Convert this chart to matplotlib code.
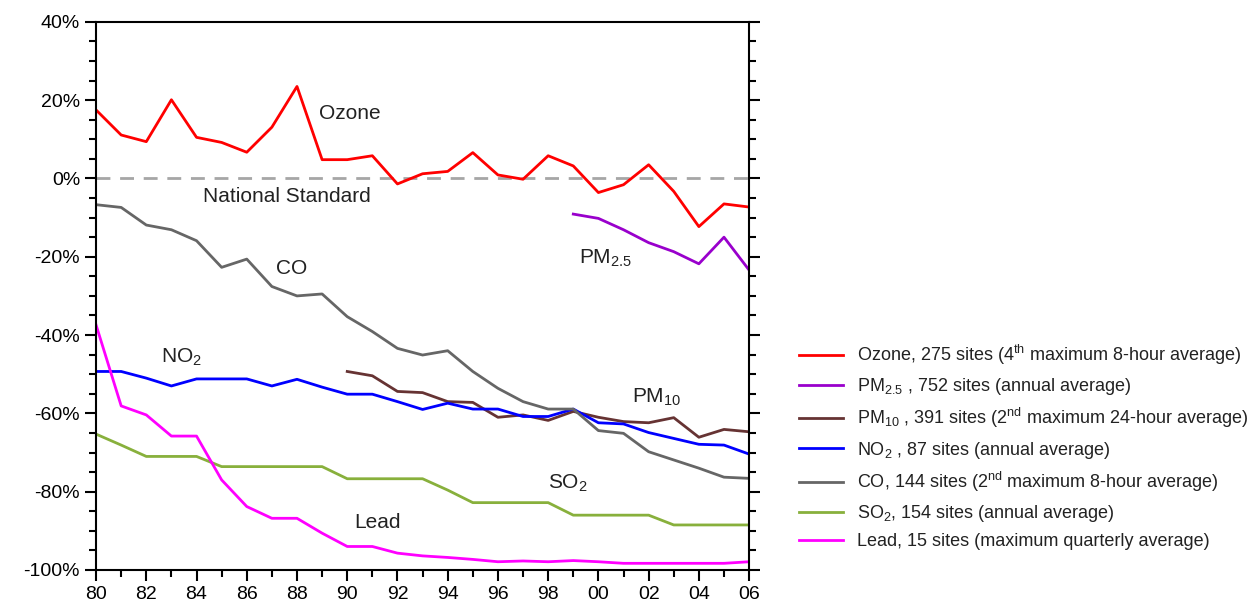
import numpy as np
import matplotlib
matplotlib.use('Agg')
import matplotlib.pyplot as plt
from matplotlib.ticker import MultipleLocator, FuncFormatter

plt.rcParams['font.family'] = ['Liberation Sans', 'DejaVu Sans']
plt.rcParams['mathtext.fontset'] = 'custom'
plt.rcParams['mathtext.rm'] = 'Liberation Sans'
plt.rcParams['mathtext.it'] = 'Liberation Sans'

years = list(range(1980, 2007))
ozone = [17.5, 11.1, 9.4, 20.1, 10.5, 9.2, 6.7, 13.1, 23.5, 4.8, 4.8, 5.8, -1.4, 1.2,
         1.8, 6.6, 0.9, -0.2, 5.8, 3.2, -3.6, -1.6, 3.5, -3.3, -12.3, -6.5, -7.3]
co = [-6.7, -7.4, -11.9, -13.1, -15.9, -22.7, -20.6, -27.6, -30.0, -29.5, -35.3, -39.1,
      -43.4, -45.1, -44.0, -49.3, -53.6, -57.0, -58.9, -58.9, -64.4, -65.1, -69.8, -71.9,
      -74.0, -76.3, -76.6]
no2 = [-49.3, -49.3, -51.0, -53.0, -51.2, -51.2, -51.2, -53.0, -51.3, -53.3, -55.1, -55.1,
       -57.0, -59.0, -57.4, -58.9, -58.9, -60.8, -60.8, -58.9, -62.4, -62.7, -64.9, -66.4,
       -67.9, -68.1, -70.4]
so2 = [-65.3, -68.1, -71.0, -71.0, -71.0, -73.6, -73.6, -73.6, -73.6, -73.6, -76.7, -76.7,
       -76.7, -76.7, -79.6, -82.8, -82.8, -82.8, -82.8, -86.0, -86.0, -86.0, -86.0, -88.5,
       -88.5, -88.5, -88.5]
lead = [-37.4, -58.1, -60.4, -65.8, -65.8, -77.0, -83.8, -86.8, -86.8, -90.6, -94.0, -94.0,
        -95.7, -96.4, -96.8, -97.3, -97.9, -97.7, -97.9, -97.6, -97.9, -98.3, -98.3, -98.3,
        -98.3, -98.3, -97.9]
pm10_years = list(range(1990, 2007))
pm10 = [-49.3, -50.4, -54.4, -54.7, -57.0, -57.2, -61.0, -60.4, -61.8, -59.5, -61.0, -62.1,
        -62.4, -61.1, -66.1, -64.1, -64.7]
pm25_years = list(range(1999, 2007))
pm25 = [-9.1, -10.2, -13.1, -16.4, -18.7, -21.8, -15.0, -23.4]

fig = plt.figure(figsize=(12.59, 6.07), dpi=100)
ax = fig.add_axes([0.0763, 0.061, 0.5187, 0.903])

lw = 2.0
h_oz, = ax.plot(years, ozone, color='#ff0000', lw=lw,
                label='Ozone, 275 sites (4$^{\\rm th}$ maximum 8-hour average)')
h_25, = ax.plot(pm25_years, pm25, color='#9900cc', lw=lw,
                label='PM$_{2.5}$ , 752 sites (annual average)')
h_10, = ax.plot(pm10_years, pm10, color='#663333', lw=lw,
                label='PM$_{10}$ , 391 sites (2$^{\\rm nd}$ maximum 24-hour average)')
h_no, = ax.plot(years, no2, color='#0000ff', lw=lw,
                label='NO$_2$ , 87 sites (annual average)')
h_co, = ax.plot(years, co, color='#666666', lw=lw,
                label='CO, 144 sites (2$^{\\rm nd}$ maximum 8-hour average)')
h_so, = ax.plot(years, so2, color='#88b03c', lw=lw,
                label='SO$_2$, 154 sites (annual average)')
h_pb, = ax.plot(years, lead, color='#ff00ff', lw=lw,
                label='Lead, 15 sites (maximum quarterly average)')
ax.axhline(0, color='#a6a6a6', lw=2.0, ls=(0, (5, 3.5)), zorder=1)

ax.set_xlim(1980, 2006)
ax.set_ylim(-100, 40)
ax.xaxis.set_major_locator(MultipleLocator(2))
ax.xaxis.set_minor_locator(MultipleLocator(1))
ax.yaxis.set_major_locator(MultipleLocator(20))
ax.yaxis.set_minor_locator(MultipleLocator(5))
ax.xaxis.set_major_formatter(FuncFormatter(lambda v, p: f'{int(round(v)) % 100:02d}'))
ax.yaxis.set_major_formatter(FuncFormatter(lambda v, p: f'{int(round(v))}%'))
ax.tick_params(axis='both', which='major', labelsize=14, length=8, width=1.5, direction='out')
ax.tick_params(axis='both', which='minor', length=5, width=1.5, direction='out')
ax.tick_params(axis='y', which='both', right=True)
for s in ax.spines.values():
    s.set_linewidth(1.5)

fs = 15
ax.text(1990.1, 16.5, 'Ozone', fontsize=fs, ha='center', va='center', color='#222222')
ax.text(1987.6, -4.5, 'National Standard', fontsize=fs, ha='center', va='center', color='#222222')
ax.text(1987.8, -23, 'CO', fontsize=fs, ha='center', va='center', color='#222222')
ax.text(2000.3, -20.3, 'PM$_{2.5}$', fontsize=fs, ha='center', va='center', color='#222222')
ax.text(1983.4, -45.6, 'NO$_2$', fontsize=fs, ha='center', va='center', color='#222222')
ax.text(2002.3, -56, 'PM$_{10}$', fontsize=fs, ha='center', va='center', color='#222222')
ax.text(1998.8, -78, 'SO$_2$', fontsize=fs, ha='center', va='center', color='#222222')
ax.text(1991.2, -87.8, 'Lead', fontsize=fs, ha='center', va='center', color='#222222')

fig.legend(handles=[h_oz, h_25, h_10, h_no, h_co, h_so, h_pb],
           loc='upper left', bbox_to_anchor=(0.622, 0.462), frameon=False,
           fontsize=13, handlelength=2.4, handletextpad=0.8, labelspacing=0.51,
           labelcolor='#222222')

fig.savefig('out.png', dpi=100)
